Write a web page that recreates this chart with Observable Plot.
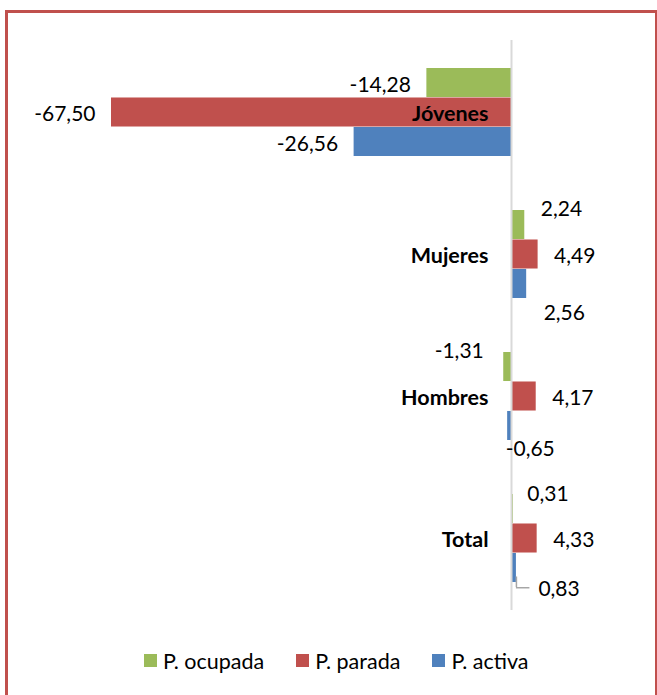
<!DOCTYPE html>
<html>
<head>
<meta charset="utf-8">
<script src="https://cdn.jsdelivr.net/npm/d3@7"></script>
<script src="https://cdn.jsdelivr.net/npm/@observablehq/plot@0.6"></script>
<style>
  html, body { margin: 0; padding: 0; background: #fff; overflow: hidden; width: 657px; height: 695px; }
  #chart { position: absolute; left: 0; top: 0; }
  #frame { position: absolute; left: 5px; top: 10px; width: 653px; height: 720px; border: 3px solid #C0504D; box-sizing: border-box; pointer-events: none; }
  #legend { position: absolute; left: 144px; top: 644px; }
  #legend div, #legend span { font-family: Lato, sans-serif !important; font-size: 21.5px !important; color: #000; }
  #legend span { margin-right: 32px !important; }
  #legend svg { margin-right: 6px !important; }
</style>
</head>
<body>
<div id="chart"></div>
<div id="legend"></div>
<div id="frame"></div>
<script>
// ---- data ----
const categories = ["Jóvenes", "Mujeres", "Hombres", "Total"];
const seriesNames = ["P. ocupada", "P. parada", "P. activa"];
const ocupada = [-14.28, 2.24, -1.31, 0.31];
const parada  = [-67.50, 4.49, 4.17, 4.33];
const activa  = [-26.56, 2.56, -0.65, 0.83];
const seriesColors = ["#9BBB59", "#C0504D", "#4F81BD"];

// ---- build rows ----
const seriesValues = [ocupada, parada, activa];
const rows = [];
seriesNames.forEach((s, j) => {
  categories.forEach((c, i) => rows.push({ category: c, series: s, j, value: seriesValues[j][i] }));
});

// ---- layout ----
const W = 657, H = 640, mt = 40, mb = 30;
const pxPerUnit = 400 / 67.5;
const zeroX = 511;
const xDomain = [-70, 20];
const marginLeft = zeroX + xDomain[0] * pxPerUnit;
const marginRight = W - (zeroX + xDomain[1] * pxPerUnit);
const pIn = 0.379, pOut = 0.19;
const step = (H - mt - mb) / (categories.length - pIn + 2 * pOut);
const bw = step * (1 - pIn);
const third = bw / 3;
const labelSize = 21;

// label placement tweaks (Excel-style moved labels)
const labelTweaks = {
  "Mujeres|P. ocupada": { dy: -16 },
  "Mujeres|P. activa":  { dy: 29, dx: 17 },
  "Hombres|P. ocupada": { dy: -16, dx: -20 },
  "Hombres|P. activa":  { dy: 23, dx: -2, anchor: "start" },
  "Total|P. ocupada":   { dy: -15, dx: 14 },
  "Total|P. activa":    { dy: 21, dx: 22 }
};
const fmt = v => v.toFixed(2).replace(".", ",");

const valueLabels = rows.map(r => {
  const t = labelTweaks[r.category + "|" + r.series] || {};
  const neg = r.value < 0;
  return Plot.text([r], {
    x: "value", y: "category",
    text: d => fmt(d.value),
    textAnchor: t.anchor || (neg ? "end" : "start"),
    dx: t.dx !== undefined ? t.dx : (neg ? -16 : 16),
    dy: (r.j - 1) * third + (t.dy !== undefined ? t.dy : 2),
    fill: "#000", fontSize: labelSize
  });
});

const leaderRow = rows.filter(r => r.category === "Total" && r.series === "P. activa");

const plot = Plot.plot({
  width: W, height: H,
  marginTop: mt, marginBottom: mb, marginLeft, marginRight,
  x: { domain: xDomain, axis: null },
  y: { type: "band", domain: categories, paddingInner: pIn, paddingOuter: pOut, axis: null },
  color: { domain: seriesNames, range: seriesColors },
  style: { fontFamily: "Lato, sans-serif", fontSize: "20px", color: "#000", background: "transparent" },
  marks: [
    ...seriesNames.map((s, j) => Plot.barX(rows.filter(r => r.series === s), {
      x: "value", y: "category", fill: "series",
      insetTop: j * third, insetBottom: (2 - j) * third
    })),
    Plot.ruleX([0], { stroke: "#d9d9d9", strokeWidth: 2 }),
    Plot.tickX(leaderRow, { x: "value", y: "category", dy: 5, insetTop: bw - 11, stroke: "#a6a6a6", strokeWidth: 1.5 }),
    Plot.ruleY(leaderRow, { y: "category", x1: "value", x2: "value", dy: bw / 2 + 5, insetRight: -13.5, stroke: "#a6a6a6", strokeWidth: 1.5 }),
    Plot.text(categories, {
      x: () => 0, y: d => d, text: d => d,
      textAnchor: "end", dx: -23, dy: 2,
      fontWeight: "bold", fontSize: 21.5, fill: "#000"
    }),
    ...valueLabels
  ]
});
document.getElementById("chart").appendChild(plot);

const legend = plot.legend("color", { swatchSize: 13 });
document.getElementById("legend").appendChild(legend);
</script>
</body>
</html>
